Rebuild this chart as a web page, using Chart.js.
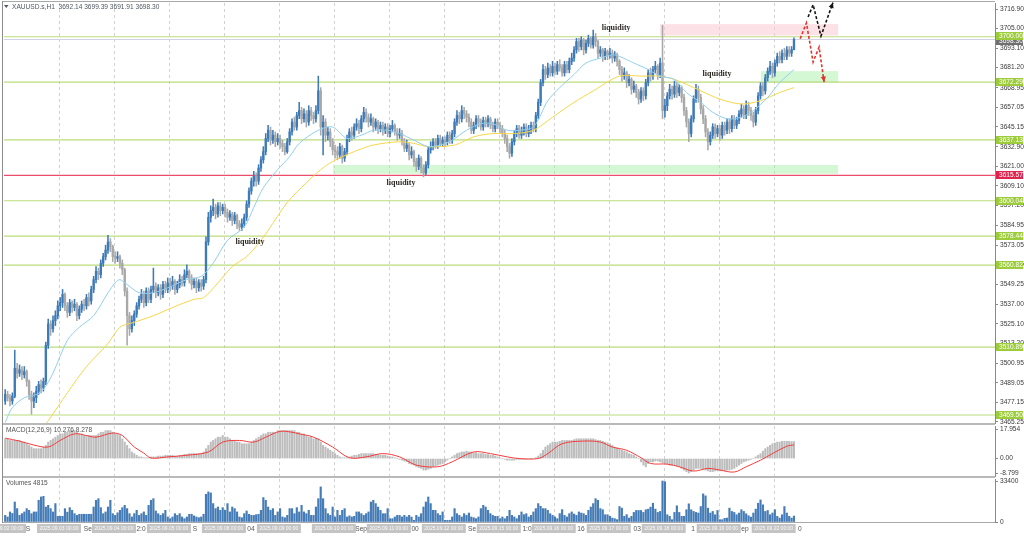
<!DOCTYPE html>
<html>
<head>
<meta charset="utf-8">
<script src="https://cdn.jsdelivr.net/npm/chart.js@4.4.1/dist/chart.umd.min.js"></script>
<style>
  body { margin: 0; background: #fff; width: 1024px; height: 537px; overflow: hidden; position: relative; }
  canvas { position: absolute; left: 0; }
  .ln { position: absolute; background: #a8a8a8; }
</style>
</head>
<body>
<canvas id="main" width="1024" height="424" style="top:0"></canvas>
<canvas id="macd" width="1024" height="54" style="top:424px"></canvas>
<canvas id="vol" width="1024" height="59" style="top:478px"></canvas>
<div class="ln" style="left:3px;top:1px;width:992px;height:1px"></div>
<div class="ln" style="left:2px;top:1px;width:1px;height:522px;background:#8c8c8c"></div>
<div class="ln" style="left:3px;top:423px;width:992px;height:2px;background:#b9b9b9"></div>
<div class="ln" style="left:3px;top:476px;width:992px;height:2px;background:#b9b9b9"></div>
<div class="ln" style="left:3px;top:522px;width:992px;height:1px"></div>
<script>
// XAUUSD.s H1, 2025.09.02 .. 2025.09.22 (23 bars a day)
const dayNames = ['02','03','04','05','08','09','10','11','12','15','16','17','18','19','22'];
const BARS_PER_DAY = 23;

// open of a bar = close of the previous one
const firstOpen = 3478;
const closes = [
  3482,3480,3478,3481,3498,3495,3497,3494,3496,3490,3482,3478,3480,3484,3488,3486,3490,3512,3525,3522,3527,3530,3536,
  3538,3543,3536,3532,3538,3535,3537,3530,3534,3537,3536,3541,3539,3546,3552,3557,3555,3562,3566,3570,3575,3572,3566,
  3565,3566,3562,3558,3545,3530,3522,3527,3531,3536,3540,3543,3538,3545,3540,3546,3548,3544,3547,3543,3549,3546,3550,
  3548,3551,3546,3549,3552,3550,3555,3557,3553,3549,3551,3547,3550,3548,3552,3575,3590,3594,3596,3592,3597,3594,3596,
  3593,3590,3592,3588,3591,3586,3584,3586,3590,3598,3606,3612,3615,3612,3620,3625,3630,3638,3643,3637,3640,3636,3638,
  3635,3633,3630,3636,3642,3648,3645,3652,3655,3650,3653,3648,3655,3652,3650,3655,3667,3645,3648,3640,3642,3636,3631,
  3630,3628,3633,3626,3630,3638,3642,3640,3645,3647,3644,3650,3654,3651,3648,3650,3645,3648,3644,3646,3643,3645,3641,
  3644,3646,3642,3640,3641,3636,3632,3634,3628,3630,3624,3621,3626,3620,3617,3622,3631,3633,3636,3634,3638,3635,3637,
  3636,3640,3637,3641,3648,3652,3650,3655,3653,3651,3648,3643,3646,3650,3648,3645,3649,3647,3650,3646,3644,3648,3646,
  3644,3641,3638,3633,3629,3636,3641,3644,3640,3642,3645,3641,3643,3646,3644,3652,3660,3672,3680,3677,3681,3678,3682,
  3679,3683,3681,3678,3683,3680,3685,3687,3692,3697,3694,3698,3692,3696,3699,3695,3700,3697,3690,3692,3688,3691,3689,
  3690,3687,3689,3685,3680,3676,3678,3672,3674,3668,3670,3666,3662,3667,3664,3672,3678,3676,3680,3682,3677,3684,3655,
  3658,3664,3668,3665,3670,3666,3669,3663,3655,3648,3641,3650,3662,3668,3663,3656,3650,3642,3636,3640,3645,3641,3644,
  3640,3646,3643,3648,3644,3650,3646,3649,3653,3656,3652,3658,3655,3652,3648,3655,3664,3670,3667,3675,3679,3682,3678,
  3684,3688,3686,3690,3688,3692,3690,3692.14,3698.30
];
const highs = [
  3485,3484,3482,3483,3509,3501,3500,3499,3499,3497,3491,3484,3483,3487,3490,3491,3492,3514,3528,3527,3530,3533,3539,
  3541,3546,3544,3538,3540,3539,3540,3538,3536,3539,3540,3543,3544,3548,3554,3560,3559,3564,3568,3573,3579,3577,3573,
  3569,3569,3567,3564,3559,3547,3532,3530,3533,3538,3542,3546,3545,3547,3547,3548,3559,3550,3549,3549,3551,3551,3553,
  3553,3554,3552,3551,3555,3554,3558,3561,3558,3555,3553,3553,3552,3552,3554,3578,3593,3597,3601,3598,3599,3599,3598,
  3598,3595,3594,3593,3593,3592,3588,3589,3592,3600,3608,3614,3618,3617,3622,3627,3633,3641,3646,3645,3643,3642,3641,
  3640,3637,3635,3638,3644,3650,3651,3654,3660,3657,3656,3655,3658,3657,3654,3658,3676,3669,3652,3650,3645,3644,3638,
  3634,3633,3635,3634,3632,3640,3644,3645,3647,3650,3649,3652,3657,3656,3653,3653,3651,3650,3649,3648,3648,3647,3647,
  3646,3649,3647,3644,3644,3643,3638,3637,3635,3633,3631,3626,3628,3627,3622,3624,3633,3636,3638,3638,3640,3640,3639,
  3639,3642,3642,3643,3650,3655,3654,3658,3657,3655,3653,3650,3648,3652,3652,3650,3651,3651,3652,3651,3648,3650,3650,
  3648,3646,3643,3640,3635,3638,3643,3646,3646,3645,3647,3647,3646,3648,3648,3654,3662,3674,3683,3682,3684,3683,3685,
  3684,3685,3686,3683,3685,3685,3687,3690,3694,3699,3699,3700,3699,3698,3701,3700,3704,3702,3698,3694,3693,3693,3692,
  3693,3692,3691,3690,3686,3682,3681,3679,3677,3675,3673,3671,3668,3669,3669,3674,3680,3681,3682,3685,3683,3687,3707,
  3662,3666,3671,3670,3673,3672,3671,3670,3665,3657,3650,3652,3664,3671,3670,3665,3658,3652,3644,3642,3647,3647,3646,
  3646,3648,3648,3650,3650,3652,3652,3651,3655,3659,3658,3661,3660,3657,3654,3657,3666,3672,3672,3677,3681,3685,3684,
  3686,3690,3691,3692,3693,3694,3694,3694,3699.39
];
const lows = [
  3476,3478,3475,3476,3480,3492,3493,3491,3492,3487,3479,3470,3474,3477,3482,3483,3484,3488,3510,3518,3520,3524,3528,
  3533,3535,3533,3529,3530,3532,3533,3527,3528,3532,3533,3534,3536,3537,3544,3550,3552,3553,3560,3564,3568,3569,3563,
  3562,3563,3559,3555,3542,3512,3518,3520,3524,3529,3534,3538,3535,3536,3538,3538,3544,3541,3542,3540,3541,3544,3544,
  3545,3546,3543,3544,3547,3548,3548,3553,3550,3546,3547,3544,3545,3545,3546,3550,3573,3587,3591,3589,3590,3591,3592,
  3590,3587,3588,3585,3586,3583,3582,3582,3584,3588,3596,3604,3609,3609,3610,3618,3623,3628,3636,3634,3635,3633,3634,
  3632,3630,3628,3629,3634,3640,3643,3643,3650,3647,3648,3645,3646,3649,3647,3648,3653,3640,3628,3636,3637,3633,3628,
  3626,3625,3626,3623,3624,3628,3636,3637,3638,3643,3641,3642,3648,3648,3645,3646,3642,3643,3641,3642,3640,3641,3639,
  3639,3642,3640,3637,3638,3634,3630,3630,3625,3626,3621,3618,3619,3617,3614.6,3616,3620,3629,3631,3632,3632,3633,3633,
  3633,3634,3635,3635,3639,3646,3647,3648,3650,3648,3645,3641,3641,3644,3645,3643,3643,3645,3645,3644,3642,3642,3644,
  3641,3639,3635,3630,3626,3627,3634,3639,3638,3638,3640,3639,3639,3641,3642,3642,3650,3658,3670,3674,3675,3676,3676,
  3677,3677,3679,3676,3676,3678,3678,3683,3685,3690,3691,3692,3689,3690,3694,3693,3693,3694,3687,3688,3685,3686,3686,
  3687,3684,3685,3682,3677,3673,3674,3669,3670,3665,3666,3663,3659,3660,3661,3662,3670,3673,3674,3678,3674,3675,3650,
  3651,3655,3662,3662,3663,3663,3664,3660,3652,3645,3636,3639,3648,3660,3660,3653,3647,3639,3631,3634,3638,3638,3639,
  3637,3638,3640,3641,3641,3642,3644,3644,3647,3651,3650,3650,3652,3649,3645,3646,3653,3662,3664,3665,3673,3677,3675,
  3676,3682,3684,3684,3686,3686,3688,3688,3691.91
];

// moving averages, read at selected bars
const blueIdx = [0,3,8,13,16,20,26,31,37,43,46,48,51,56,62,68,76,82,87,93,100,104,108,114,119,123,131,137,143,149,154,160,165,171,177,182,187,193,199,204,210,215,221,227,232,238,243,249,254,257,263,269,274,280,285,291,296,302,308,313,319,324,330];
const blueVal = [3465,3474,3480,3482,3485,3495,3515,3523,3530,3544,3550,3552,3549,3544,3544,3547,3552,3554,3562,3576,3584,3596,3608,3619,3627,3635,3643,3645,3638,3640,3643,3643,3641,3637,3633,3634,3637,3643,3647,3647,3643,3643,3645,3661,3669,3677,3684,3687,3689,3688,3684,3680,3676,3674,3666,3660,3654,3650,3651,3655,3663,3672,3680];
const yelIdx = [14,18,26,34,43,48,54,62,70,79,83,89,95,101,106,110,118,126,132,137,146,154,165,171,177,188,196,204,213,221,229,238,246,257,266,274,280,285,291,299,308,316,324,330];
const yelVal = [3458,3466,3483,3499,3513,3523,3526,3530,3535,3540,3541,3550,3560,3566,3574,3582,3599,3611,3619,3624,3630,3634,3636,3635,3633,3634,3639,3641,3641,3643,3651,3660,3667,3676,3676,3676,3674,3671,3667,3662,3659,3661,3666,3669];

// MACD(12,26,9)
const macdHist = [
  12,12,11,11,11,11,11,10,10,9,8,7,6,6,6,6,7,8,10,11,12,13,14,
  15,15,16,16,17,17,17,16,15,15,14,14,14,14,14,14,15,16,16,17,17,17,16,
  15,15,14,12,10,8,6,4,3,2,1,1,0.5,0.5,0.5,1,1,1,1.5,1.5,1.5,2,2,
  2,2,1.5,1.5,2,2,2.5,2.5,3,3,3,3,3,3,4,6,8,10,11,12,13,13,14,
  13,13,12,11,11,10,10,9,9,9,9,10,11,12,13,14,15,15,16,16,16,16,17,
  17,17,17,17,17,17,17,16,16,15,15,14,13,13,12,12,12,10,8,7,6,5,4,
  3,2,1,0.5,0.5,0.5,1,1.5,2,2,2.5,3,3,3,3,3,3,2.5,2.5,2,2,2,1.5,
  1,1,0.5,0,-0.5,-1,-1.5,-2,-3,-3.5,-4,-5,-5.5,-6,-7,-7,-6.5,-6,-5,-4.5,-4,-3.5,-3,
  -2,-1,0,1,2,3,3.5,4,4,4.5,4,4,3.5,3.5,3,3,3,2.5,2.5,2,2,1.5,1,
  0.5,0,-0.5,-1,-1,-1,-1,-0.5,-0.5,-0.5,-0.5,-0.5,0,0,0,0.5,1.5,3,5,7,8,9,10,
  10,10,10.5,11,11,11,11,11,11.5,12,12,12,12,12,12,12,12,11.5,11,11,10.5,10,9.5,
  9,8,7,6.5,6,5,4.5,4,3,2.5,2,1,0,-2,-4,-5,-3,-2,-2,-1.5,-1.5,-2,-2.5,
  -3,-3.5,-4,-4,-4,-4.5,-5,-6,-7,-8,-8.8,-8,-7,-6,-6,-6,-6.5,-7,-7.5,-8,-8,-7.5,-7.5,
  -7.5,-7.5,-7.5,-7,-7,-6.5,-6,-5,-4,-3,-2,-1.5,-1,-0.5,0,1,2,3,4.5,6,7,8,9,
  9.5,10,10,10.5,10.5,10.5,10.5,10.3,10.276
];
const sigIdx = [0,6,12,18,23,29,34,38,45,49,54,58,61,68,76,85,91,98,104,109,115,120,123,129,137,144,151,158,165,172,181,187,196,203,210,215,223,227,233,242,249,254,260,266,270,277,282,288,294,299,305,310,316,321,327,330];
const sigVal = [12.4,10.6,8.2,7,11,15,14,13,15.5,14,7,3.3,0.3,1,2,4,10,11,10,13,16.5,16,15,13,7,0.5,1,3,1,-4,-5,-2,4,3,1,0,0,3,9,10.6,10,7,5,0.5,-3,-3.4,-5,-7.6,-6,-7,-8.2,-5,-1,3,7.5,8.278];

const volumes = [
  5400,4100,8200,7000,16300,10900,5400,6800,8200,10900,9500,6800,8200,8200,17700,20400,20900,12200,13600,10900,8200,15000,4600,4600,4600,10900,8000,
  11700,9500,6800,5400,6300,6300,6300,6300,6300,6300,12200,17700,19000,11700,6800,8200,12200,17700,6800,5400,7500,
  9500,11700,13600,10900,6800,4100,6800,9500,5400,6800,8200,5400,13600,17700,19000,9000,
  6800,5400,6800,9500,4100,2700,4100,6800,5400,6800,4100,2700,4100,6300,6300,5000,
  4100,3500,4100,6300,22600,24500,23700,15000,10900,12200,9500,11700,9500,15000,8200,12200,10900,8200,4100,3500,6800,9000,6300,5400,5400,6000,
  6300,9500,19900,17700,12200,9500,10900,5400,8200,10900,4100,3500,5400,10900,10900,6800,11700,8200,
  13600,8200,6800,9500,5400,5400,12200,19000,28600,19000,10900,6800,5400,12200,4100,9500,5400,9500,10900,4100,5000,
  4100,4600,8200,8200,6800,5400,6800,8200,16300,17700,15000,12200,9500,6800,6800,10900,2700,2700,4100,5400,5400,4100,5400,4100,5400,4000,
  1400,5400,4100,6800,12200,16300,20400,15000,9500,9500,6800,5400,8200,1400,1400,1400,4100,10900,6800,5400,4100,6800,5400,7300,4100,3500,
  2700,4100,10900,13600,12200,9500,6800,5400,4600,4600,2700,4100,2700,4600,9500,5400,4100,2700,5400,8200,6000,
  6800,4100,5400,8200,10900,15000,12800,10900,10900,9500,6800,5400,4100,2700,6800,10100,5400,4100,6800,8200,6500,
  5400,8200,7300,6800,5400,9500,12200,15000,19000,17700,10900,
  10000,5900,5900,4600,3200,2700,1900,12600,11300,4600,6000,
  3200,4600,7800,9400,9400,9400,7800,10000,10500,12100,15300,10500,7800,8600,33400,32800,5900,4600,1900,7800,
  13200,7800,4600,4600,10000,14800,10000,8600,7800,7300,12600,22900,21300,11300,7300,8600,5900,9400,1900,1900,3000,
  3200,11300,8600,7800,5900,7300,10000,8600,6700,5100,4000,7300,10500,15300,18000,14000,8600,9400,5900,7300,10000,4600,3200,5900,12600,7300,4600,3200,4815
];

// axis ticks and marked levels
const mainTicks = [3716.90,3705.00,3693.10,3681.20,3668.95,3657.05,3645.15,3632.90,3621.00,3609.10,3597.20,3584.95,3573.05,3561.15,3549.25,3537.00,3525.10,3513.20,3500.95,3489.05,3477.15,3465.25];
const greenLevels = [3700.00,3672.29,3637.13,3600.04,3578.44,3560.82,3510.89,3469.50];
const redLevel = 3615.57;
const lastPrice = 3698.30;
const macdTicks = [17.954, 0, -8.799];
const volTicks = [33400, 0];

// drawn zones: [fromBar, toBar, lowPrice, highPrice]
const pinkZones = [[274, 348.5, 3700.8, 3707.7]];
const greenZones = [[316.2, 348.5, 3672.3, 3679.0], [137.2, 348.5, 3616.5, 3621.8]];
const liquidityAt = [[255.6, 3705.3], [297.8, 3677.3], [165.6, 3610.9], [102.4, 3574.9]];
const redPath = [[332.6, 3698.8], [335.2, 3708.4], [338.0, 3684.6], [340.5, 3693.7], [342.6, 3672.4]];
const blackPath = [[335.9, 3712.0], [338.0, 3719.5], [341.3, 3700.4], [346.3, 3720.8]];
const axisBits = [['S', 9.5], ['Se', 34.6], ['2:0', 56.8], ['S', 79.4], ['04', 102.8], ['Sep', 148.9], ['00', 171.5], ['Se', 195.3], ['1:0', 218.3], ['16', 240.9], ['03', 264.4], ['1', 287.8], ['ep', 309.5], ['0', 332.5]];

const X_MIN = -0.5, X_MAX = 414.1;
const BULL = '#3d7ab8', BEAR = '#a8a8a8';
const FONT = '"Liberation Sans", Arial, sans-serif';

const opens = closes.map((c, i) => i ? closes[i - 1] : firstOpen);
const candleCol = closes.map((c, i) => c >= opens[i] ? BULL : BEAR);

function xScale() {
  return { type: 'linear', min: X_MIN, max: X_MAX, display: false, offset: false };
}
function yScale(min, max, ticks, fmt) {
  return {
    type: 'linear', position: 'right', min: min, max: max,
    afterFit(s) { s.width = 29; s.paddingTop = 0; s.paddingBottom = 0; },
    afterBuildTicks(s) { s.ticks = ticks.map(v => ({ value: v })); },
    ticks: { font: { family: FONT, size: 6.6 }, color: '#3a3a3a', padding: 2, autoSkip: false, callback: fmt },
    grid: { drawOnChartArea: false, drawTicks: true, tickLength: 3, color: '#8a8a8a' },
    border: { display: true, color: '#8a8a8a' }
  };
}
const baseOpts = {
  responsive: false, animation: false, devicePixelRatio: 1, events: [],
  plugins: { legend: { display: false }, tooltip: { enabled: false } }
};

const dayGrid = {
  id: 'dayGrid',
  beforeDatasetsDraw(c) {
    const { ctx, chartArea: a } = c, x = c.scales.x;
    ctx.save();
    ctx.strokeStyle = '#d2d2d2'; ctx.lineWidth = 1; ctx.setLineDash([3, 3]);
    for (let d = 1; d < dayNames.length; d++) {
      const px = Math.round(x.getPixelForValue(d * BARS_PER_DAY - 0.5)) + 0.5;
      ctx.beginPath(); ctx.moveTo(px, a.top); ctx.lineTo(px, a.bottom); ctx.stroke();
    }
    ctx.restore();
  }
};

function tag(ctx, y, text, bg) {
  ctx.fillStyle = bg;
  ctx.fillRect(996, Math.round(y) - 4, 27, 8);
  ctx.fillStyle = '#fff';
  ctx.font = '6.6px ' + FONT;
  ctx.textAlign = 'left'; ctx.textBaseline = 'middle';
  ctx.fillText(text, 999, Math.round(y) + 0.5);
}

function dashedArrow(ctx, pts, color) {
  ctx.save();
  ctx.strokeStyle = color; ctx.fillStyle = color; ctx.lineWidth = 1.6;
  ctx.setLineDash([3, 2]);
  ctx.beginPath();
  pts.forEach((p, i) => i ? ctx.lineTo(p[0], p[1]) : ctx.moveTo(p[0], p[1]));
  ctx.stroke();
  ctx.setLineDash([]);
  const [x1, y1] = pts[pts.length - 2], [x2, y2] = pts[pts.length - 1];
  const ang = Math.atan2(y2 - y1, x2 - x1), L = 6;
  ctx.beginPath();
  ctx.moveTo(x2, y2);
  ctx.lineTo(x2 - L * Math.cos(ang - 0.45), y2 - L * Math.sin(ang - 0.45));
  ctx.lineTo(x2 - L * Math.cos(ang + 0.45), y2 - L * Math.sin(ang + 0.45));
  ctx.closePath(); ctx.fill();
  ctx.restore();
}

const mainMarks = {
  id: 'mainMarks',
  beforeDatasetsDraw(c) {
    const { ctx, chartArea: a } = c, x = c.scales.x, y = c.scales.y;
    ctx.save();
    const zone = (z, col) => {
      const x1 = x.getPixelForValue(z[0]), x2 = x.getPixelForValue(z[1]);
      const y1 = y.getPixelForValue(z[3]), y2 = y.getPixelForValue(z[2]);
      ctx.fillStyle = col; ctx.fillRect(x1, y1, x2 - x1, y2 - y1);
    };
    pinkZones.forEach(z => zone(z, 'rgba(250,200,210,0.55)'));
    greenZones.forEach(z => zone(z, 'rgba(170,240,170,0.5)'));
    const hline = (p, col, w) => {
      const py = y.getPixelForValue(p);
      ctx.strokeStyle = col; ctx.lineWidth = w;
      ctx.beginPath(); ctx.moveTo(a.left, py); ctx.lineTo(a.right, py); ctx.stroke();
    };
    hline(lastPrice, '#d2d2e4', 1);
    greenLevels.forEach(p => hline(p, 'rgba(172,210,92,0.8)', 1.2));
    hline(redLevel, '#ec4d6c', 1.2);
    ctx.restore();
  },
  afterDatasetsDraw(c) {
    const { ctx } = c, x = c.scales.x, y = c.scales.y;
    ctx.save();
    ctx.fillStyle = '#2e2a26';
    ctx.font = 'bold 8px "Liberation Serif", serif';
    ctx.textAlign = 'center'; ctx.textBaseline = 'middle';
    liquidityAt.forEach(p => ctx.fillText('liquidity', x.getPixelForValue(p[0]), y.getPixelForValue(p[1])));
    ctx.restore();
    const toPx = pts => pts.map(p => [x.getPixelForValue(p[0]), y.getPixelForValue(p[1])]);
    dashedArrow(ctx, toPx(redPath), '#e0342f');
    dashedArrow(ctx, toPx(blackPath), '#151515');
  },
  afterDraw(c) {
    const { ctx } = c, y = c.scales.y;
    ctx.save();
    greenLevels.forEach(p => tag(ctx, y.getPixelForValue(p), p.toFixed(2), '#9ccc3a'));
    tag(ctx, y.getPixelForValue(lastPrice) + 1, lastPrice.toFixed(2), '#707070');
    tag(ctx, y.getPixelForValue(greenLevels[0]) - 1, greenLevels[0].toFixed(2), '#9ccc3a');
    tag(ctx, y.getPixelForValue(redLevel), redLevel.toFixed(2), '#e0234e');
    // header
    ctx.fillStyle = '#4f5862';
    ctx.beginPath(); ctx.moveTo(4, 5); ctx.lineTo(8.5, 5); ctx.lineTo(6.25, 8); ctx.closePath(); ctx.fill();
    ctx.font = '6.6px ' + FONT; ctx.textAlign = 'left'; ctx.textBaseline = 'middle';
    ctx.fillText('XAUUSD.s,H1  ' + opens[opens.length - 1].toFixed(2) + ' ' + highs[highs.length - 1].toFixed(2) + ' ' +
      lows[lows.length - 1].toFixed(2) + ' ' + closes[closes.length - 1].toFixed(2), 12, 7);
    ctx.restore();
  }
};

new Chart(document.getElementById('main'), {
  type: 'bar',
  data: {
    datasets: [
      { type: 'line', data: blueIdx.map((v, i) => ({ x: v, y: blueVal[i] })), borderColor: '#8fcff0', borderWidth: 1, pointRadius: 0, tension: 0.3, order: 0 },
      { type: 'line', data: yelIdx.map((v, i) => ({ x: v, y: yelVal[i] })), borderColor: '#f6d64a', borderWidth: 1, pointRadius: 0, tension: 0.3, order: 0 },
      { data: closes.map((c, i) => ({ x: i, y: [opens[i], c] })), backgroundColor: candleCol, barThickness: 1.7, grouped: false, order: 1 },
      { data: closes.map((c, i) => ({ x: i, y: [lows[i], highs[i]] })), backgroundColor: candleCol, barThickness: 0.9, grouped: false, order: 2 }
    ]
  },
  options: Object.assign({}, baseOpts, {
    layout: { padding: { left: 4, right: 0, top: 3, bottom: 1 } },
    scales: { x: xScale(), y: yScale(3464.62, 3720.56, mainTicks, v => v.toFixed(2)) }
  }),
  plugins: [dayGrid, mainMarks]
});

new Chart(document.getElementById('macd'), {
  type: 'bar',
  data: {
    datasets: [
      { type: 'line', data: sigIdx.map((v, i) => ({ x: v, y: sigVal[i] })), borderColor: '#f23c3c', borderWidth: 1, pointRadius: 0, tension: 0.35, order: 0 },
      { data: macdHist.map((v, i) => ({ x: i, y: v })), backgroundColor: '#bdbdbd', barThickness: 1.4, grouped: false, order: 1 }
    ]
  },
  options: Object.assign({}, baseOpts, {
    layout: { padding: { left: 4, right: 0, top: 2, bottom: 2 } },
    scales: { x: xScale(), y: yScale(-10.62, 19.78, macdTicks, v => v === 0 ? '0.00' : String(v)) }
  }),
  plugins: [dayGrid, {
    id: 'macdText',
    afterDraw(c) {
      const ctx = c.ctx;
      ctx.save();
      ctx.fillStyle = '#555'; ctx.font = '6.6px ' + FONT; ctx.textAlign = 'left'; ctx.textBaseline = 'middle';
      ctx.fillText('MACD(12,26,9) ' + macdHist[macdHist.length - 1].toFixed(3) + ' ' + sigVal[sigVal.length - 1].toFixed(3), 6, 6.5);
      ctx.restore();
    }
  }]
});

new Chart(document.getElementById('vol'), {
  type: 'bar',
  data: {
    datasets: [
      { data: volumes.map((v, i) => ({ x: i, y: v })), backgroundColor: '#467cb6', barThickness: 1.5, grouped: false }
    ]
  },
  options: Object.assign({}, baseOpts, {
    layout: { padding: { left: 4, right: 0, top: 1, bottom: 15 } },
    scales: { x: xScale(), y: yScale(0, 35030, volTicks, v => String(v)) }
  }),
  plugins: [dayGrid, {
    id: 'volText',
    afterDraw(c) {
      const ctx = c.ctx, x = c.scales.x;
      ctx.save();
      ctx.fillStyle = '#555'; ctx.font = '6.6px ' + FONT; ctx.textAlign = 'left'; ctx.textBaseline = 'middle';
      ctx.fillText('Volumes ' + volumes[volumes.length - 1], 6, 5.5);
      // time axis
      ctx.textAlign = 'center';
      axisBits.forEach(b => ctx.fillText(b[0], x.getPixelForValue(b[1]), 51));
      ctx.font = '5px ' + FONT;
      dayNames.forEach((d, i) => {
        const px = x.getPixelForValue(i * BARS_PER_DAY - 0.5);
        ctx.fillStyle = '#c4c4c4'; ctx.fillRect(px - 22, 46, 44, 9);
        ctx.fillStyle = '#fbfbfb'; ctx.fillText('2025.09.' + d + ' 00:00', px, 50.8);
      });
      ctx.restore();
    }
  }]
});
</script>
</body>
</html>
